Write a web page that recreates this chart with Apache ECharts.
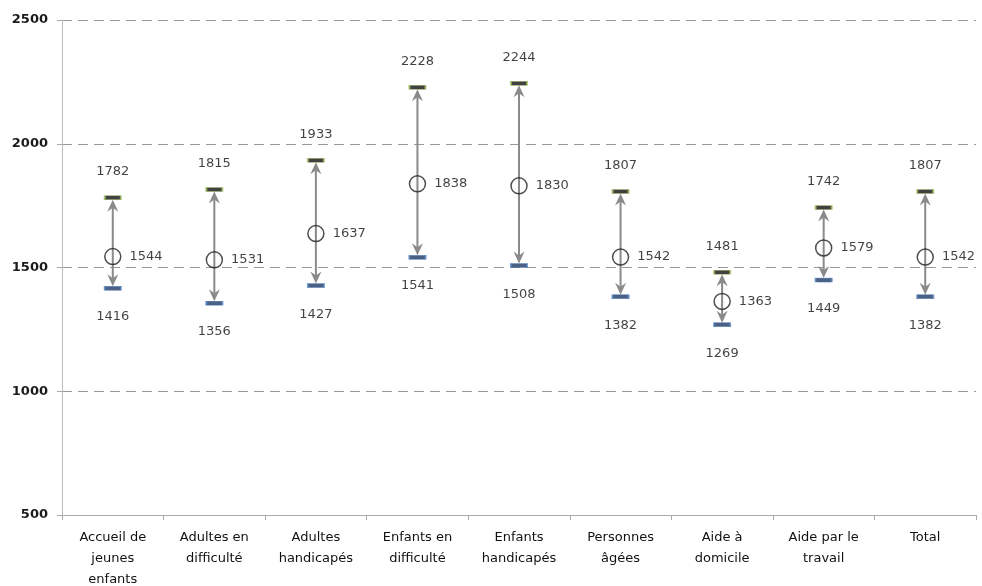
<!DOCTYPE html>
<html>
<head>
<meta charset="utf-8">
<script src="https://cdn.jsdelivr.net/npm/echarts@6/dist/echarts.min.js"></script>
<style>
  html, body { margin: 0; padding: 0; background: #fff; }
  #chart { width: 982px; height: 586px; }
</style>
</head>
<body>
<div id="chart"></div>
<script>
// catégories (axe x)
const categories = [
  'Accueil de\njeunes\nenfants',
  'Adultes en\ndifficulté',
  'Adultes\nhandicapés',
  'Enfants en\ndifficulté',
  'Enfants\nhandicapés',
  'Personnes\nâgées',
  'Aide à\ndomicile',
  'Aide par le\ntravail',
  'Total'
];
// valeurs hautes, moyennes, basses
const highValues = [1782, 1815, 1933, 2228, 2244, 1807, 1481, 1742, 1807];
const meanValues = [1544, 1531, 1637, 1838, 1830, 1542, 1363, 1579, 1542];
const lowValues  = [1416, 1356, 1427, 1541, 1508, 1382, 1269, 1449, 1382];
const yTicks = [500, 1000, 1500, 2000, 2500];

const labelFont = { fontFamily: 'DejaVu Sans', fontSize: 13, color: '#111' };

const chart = echarts.init(document.getElementById('chart'));

// flèche double entre bas et haut
function renderArrow(params, api) {
  const i = api.value(0);
  const pLow = api.coord([i, api.value(1)]);
  const pHigh = api.coord([i, api.value(2)]);
  const x = pLow[0];
  const top = pHigh[1] + 2;
  const bot = pLow[1] - 2;
  const grey = '#8a8a8a';
  return {
    type: 'group',
    children: [
      {
        type: 'line',
        shape: { x1: x, y1: top + 6, x2: x, y2: bot - 6 },
        style: { stroke: grey, lineWidth: 2 }
      },
      {
        type: 'polygon',
        shape: { points: [[x, top], [x - 5.5, top + 12], [x, top + 8], [x + 5.5, top + 12]] },
        style: { fill: grey }
      },
      {
        type: 'polygon',
        shape: { points: [[x, bot], [x - 5.5, bot - 12], [x, bot - 8], [x + 5.5, bot - 12]] },
        style: { fill: grey }
      }
    ]
  };
}

const option = {
  animation: false,
  grid: { left: 62, right: 6, top: 20, bottom: 71, containLabel: false, outerBoundsMode: 'none' },
  xAxis: {
    type: 'category',
    data: categories,
    boundaryGap: true,
    axisLine: { lineStyle: { color: '#aaa', width: 1 } },
    axisTick: { show: true, length: 5, lineStyle: { color: '#aaa' } },
    axisLabel: Object.assign({ interval: 0, lineHeight: 21, margin: 12, align: 'center' }, labelFont)
  },
  yAxis: {
    type: 'value',
    min: 500,
    max: 2500,
    interval: 500,
    axisLine: { show: true, lineStyle: { color: '#bbb', width: 1 } },
    axisTick: { show: true, length: 5, lineStyle: { color: '#aaa' } },
    axisLabel: Object.assign({ margin: 14, formatter: v => yTicks.includes(v) ? String(v) : '' }, labelFont, { fontWeight: 'bold', color: '#1a1a1a' }),
    splitLine: { show: true, lineStyle: { color: '#999', type: [10, 6], width: 1 } }
  },
  series: [
    {
      type: 'custom',
      renderItem: renderArrow,
      data: categories.map((c, i) => [i, lowValues[i], highValues[i]]),
      z: 2
    },
    {
      name: 'haut',
      type: 'scatter',
      symbol: 'rect',
      symbolSize: [16, 4],
      itemStyle: { color: '#111', borderColor: '#9bbb59', borderWidth: 1 },
      label: Object.assign({ show: true, position: 'top', distance: 17 }, labelFont),
      data: highValues,
      z: 3
    },
    {
      name: 'bas',
      type: 'scatter',
      symbol: 'rect',
      symbolSize: [16, 4],
      itemStyle: { color: '#1f3864', borderColor: '#4f81bd', borderWidth: 1 },
      label: Object.assign({ show: true, position: 'bottom', distance: 20 }, labelFont),
      data: lowValues,
      z: 3
    },
    {
      name: 'moyenne',
      type: 'scatter',
      symbol: 'circle',
      symbolSize: 16,
      itemStyle: { color: 'rgba(0,0,0,0)', borderColor: '#222', borderWidth: 1.5 },
      label: Object.assign({ show: true, position: 'right', distance: 8 }, labelFont),
      data: meanValues,
      z: 4
    }
  ]
};

chart.setOption(option);
</script>
</body>
</html>
